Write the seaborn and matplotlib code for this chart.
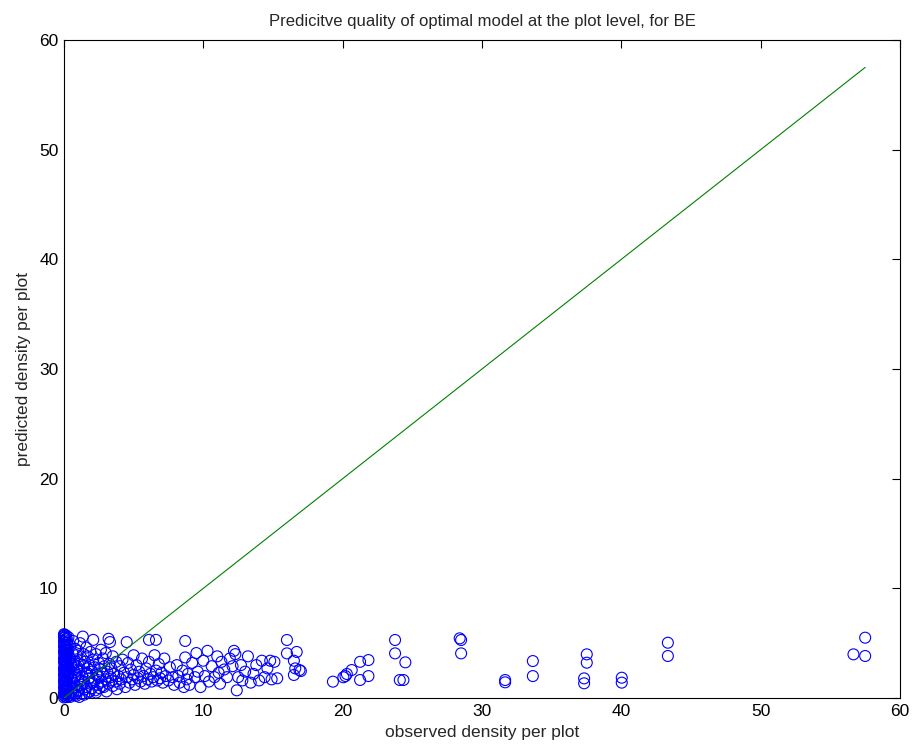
import matplotlib
matplotlib.use("Agg")
import matplotlib.pyplot as plt
import seaborn as sns
import pandas as pd

# plots with (almost) no observed density: a dense column at x = 0
zero_pred = [0.05, 0.12, 0.22, 0.31, 0.43, 0.55, 0.62, 0.74, 0.88, 0.97, 1.08, 1.21, 1.33, 1.42,
             1.56, 1.67, 1.79, 1.88, 2.02, 2.13, 2.25, 2.37, 2.46, 2.58, 2.71, 2.83, 2.92, 3.05,
             3.18, 3.27, 3.39, 3.52, 3.61, 3.74, 3.86, 3.95, 4.08, 4.21, 4.33, 4.42, 4.55, 4.68,
             4.77, 4.89, 5.02, 5.14, 5.26, 5.37, 5.48, 5.59, 5.68, 5.76, 5.82,
             0.08, 0.35, 0.67, 0.93, 1.26, 1.61, 1.95, 2.29, 2.62, 2.97, 3.31, 3.66, 3.99, 4.36,
             4.71, 5.05, 5.42, 5.71, 0.18, 0.81, 1.47, 2.18, 2.77, 3.45, 4.14, 4.84, 5.53]
zero_obs = [0.0, 0.08, 0.03, 0.12, 0.0, 0.05, 0.15, 0.02, 0.1, 0.0, 0.06, 0.14, 0.01, 0.09,
            0.0, 0.04, 0.11, 0.02, 0.07, 0.0, 0.13, 0.05, 0.01, 0.1, 0.0, 0.06, 0.12, 0.03,
            0.08, 0.0, 0.1, 0.04, 0.0, 0.07, 0.12, 0.02, 0.05, 0.0, 0.09, 0.03, 0.11, 0.0,
            0.06, 0.02, 0.08, 0.0, 0.04, 0.1, 0.01, 0.05, 0.0, 0.03, 0.0,
            0.2, 0.18, 0.22, 0.16, 0.25, 0.19, 0.23, 0.17, 0.21, 0.24, 0.18, 0.2, 0.22, 0.17,
            0.19, 0.23, 0.2, 0.15, 0.35, 0.3, 0.38, 0.28, 0.33, 0.36, 0.3, 0.27, 0.32]

observed = [0.3, 0.35, 0.4, 0.4, 0.45, 0.5, 0.5, 0.55, 0.6, 0.6, 0.65, 0.7, 0.7, 0.75, 0.8, 0.8,
            0.85, 0.9, 0.9, 0.95, 1.0, 1.0, 1.0, 1.0,
            0.45, 0.55, 0.62, 0.68, 0.78, 0.88, 0.98, 1.05, 1.25, 1.45, 1.65, 1.85, 2.05, 2.3,
            2.45, 2.75, 3.05, 3.45,
            1.1, 1.1, 1.15, 1.2, 1.2, 1.3, 1.3, 1.35, 1.4, 1.4, 1.45, 1.5, 1.5, 1.55, 1.6, 1.6,
            1.7, 1.7, 1.75, 1.8, 1.85, 1.9, 1.9, 2.0, 2.0,
            2.1, 2.1, 2.15, 2.2, 2.25, 2.3, 2.35, 2.4, 2.5, 2.5, 2.55, 2.6, 2.65, 2.7, 2.8, 2.8,
            2.85, 2.9, 3.0, 3.0,
            3.1, 3.2, 3.2, 3.25, 3.3, 3.35, 3.4, 3.5, 3.5, 3.6, 3.7, 3.75, 3.8, 3.9, 4.0, 4.0,
            4.1, 4.2, 4.3, 4.4, 4.5, 4.5, 4.6, 4.7, 4.8, 4.9, 5.0, 5.0,
            5.1, 5.2, 5.3, 5.4, 5.5, 5.6, 5.7, 5.8, 5.9, 6.0, 6.1, 6.1, 6.2, 6.3, 6.4, 6.5, 6.6,
            6.6, 6.7, 6.8, 6.9, 7.0, 7.1, 7.2, 7.3, 7.5, 7.6, 7.8, 7.9,
            8.1, 8.2, 8.3, 8.5, 8.6, 8.7, 8.7, 8.8, 8.9, 9.0, 9.2, 9.4, 9.5, 9.6, 9.8, 10.0, 10.1,
            10.3, 10.4, 10.6, 10.8, 11.0, 11.1, 11.2, 11.3, 11.5, 11.7, 11.9, 12.1, 12.2, 12.3,
            12.4, 12.5,
            12.7, 12.8, 13.0, 13.2, 13.4, 13.6, 13.8, 14.0, 14.2, 14.4, 14.6, 14.8, 14.9, 15.1, 15.3,
            16.0, 16.0, 16.7, 16.5, 16.6, 16.9, 16.5, 17.0,
            19.3, 20.05, 20.3, 20.65, 20.2, 21.25, 21.85, 21.25, 21.85,
            23.76, 23.76, 24.5, 24.1, 24.36, 28.4, 28.5, 28.5,
            31.66, 31.66, 33.65, 33.65, 37.52, 37.52, 37.33, 37.33, 40.03, 40.03,
            43.34, 43.34, 56.66, 57.5, 57.5]
predicted = [0.2, 1.1, 2.3, 3.6, 4.8, 0.5, 1.8, 2.9, 4.1, 0.9, 5.2, 1.4, 2.6, 3.3, 0.3, 4.5,
             2.0, 1.0, 3.9, 2.8, 0.6, 1.7, 3.1, 4.3,
             0.1, 1.4, 0.4, 3.1, 1.9, 0.2, 2.5, 0.7, 1.6, 0.3, 2.3, 0.6, 1.4, 0.5, 2.0, 1.1, 0.6,
             1.6,
             0.1, 2.4, 5.0, 1.2, 3.5, 0.4, 2.0, 5.6, 2.9, 4.0, 1.5, 0.8, 3.3, 2.2, 4.6, 1.0,
             2.7, 3.8, 0.5, 1.8, 3.0, 4.2, 1.3, 2.4, 0.9,
             5.3, 3.5, 1.6, 2.8, 0.7, 4.0, 2.1, 1.2, 3.2, 1.9, 0.9, 2.6, 4.4, 1.5, 2.2, 3.6,
             1.0, 2.9, 1.7, 4.1,
             2.4, 5.4, 1.3, 3.1, 5.1, 1.9, 2.7, 1.1, 3.8, 2.2, 1.5, 3.3, 0.8, 2.0, 1.3, 2.9,
             1.7, 3.5, 2.3, 1.0, 5.1, 1.9, 3.2, 1.4, 2.6, 1.7, 3.9, 2.1,
             1.2, 3.0, 1.8, 2.4, 1.5, 3.6, 2.0, 1.3, 2.7, 1.7, 5.3, 3.3, 2.2, 1.5, 1.9, 3.9, 5.3,
             2.5, 1.6, 3.1, 1.8, 2.3, 1.4, 3.6, 2.0, 1.6, 2.8, 1.9, 1.2,
             3.0, 2.0, 1.4, 2.5, 1.0, 5.2, 3.7, 1.7, 2.2, 1.2, 3.2, 1.9, 4.1, 2.4, 1.0, 3.4, 2.0,
             4.3, 1.5, 2.9, 1.9, 3.8, 2.3, 1.3, 3.3, 2.6, 1.9, 3.6, 2.9, 4.3, 4.0,
             0.7, 1.9,
             3.0, 1.6, 2.4, 3.8, 1.4, 2.2, 3.0, 1.6, 3.4, 1.9, 2.7, 3.4, 1.7, 3.3, 1.8,
             5.29, 4.07, 4.2, 3.4, 2.7, 2.55, 2.1, 2.46,
             1.49, 1.89, 2.19, 2.55, 2.0, 3.3, 3.46, 1.64, 2.0,
             5.29, 4.07, 3.25, 1.64, 1.64, 5.44, 5.29, 4.07,
             1.64, 1.43, 3.37, 2.0, 3.98, 3.22, 1.79, 1.34, 1.85, 1.4,
             5.04, 3.83, 3.98, 5.5, 3.83]

df = pd.DataFrame({"observed": zero_obs + observed,
                   "predicted": zero_pred + predicted})

sns.set_style("white")
plt.rcParams["font.family"] = ["Liberation Sans", "DejaVu Sans"]

fig = plt.figure(figsize=(9.13, 7.55), dpi=100)
ax = fig.add_axes([64 / 913, 1 - 698 / 755, 836 / 913, 658 / 755])

sns.scatterplot(data=df, x="observed", y="predicted", ax=ax, marker="o",
                s=62, facecolors="none", edgecolor=(0, 0, 1), linewidth=0.8,
                zorder=3, clip_on=False)

line_max = max(df["observed"])
sns.lineplot(x=[0, line_max], y=[0, line_max], ax=ax, color=(0, 0.5, 0),
             linewidth=0.8, zorder=4)

ax.set_xlim(0, 60)
ax.set_ylim(0, 60)
ax.set_xticks([0, 10, 20, 30, 40, 50, 60])
ax.set_yticks([0, 10, 20, 30, 40, 50, 60])
ax.tick_params(direction="in", length=6, width=0.8, top=True, right=True,
               labelsize=12.5, pad=4, colors="black")
for sp in ax.spines.values():
    sp.set_visible(True)
    sp.set_color("black")
    sp.set_linewidth(0.8)

ax.set_xlabel("observed density per plot", fontsize=12.5, labelpad=5)
ax.set_ylabel("predicted density per plot", fontsize=12.5, labelpad=6)
ax.set_title("Predicitve quality of optimal model at the plot level, for BE",
             fontsize=12, pad=10)

fig.savefig("out.png", dpi=100, facecolor="white")
